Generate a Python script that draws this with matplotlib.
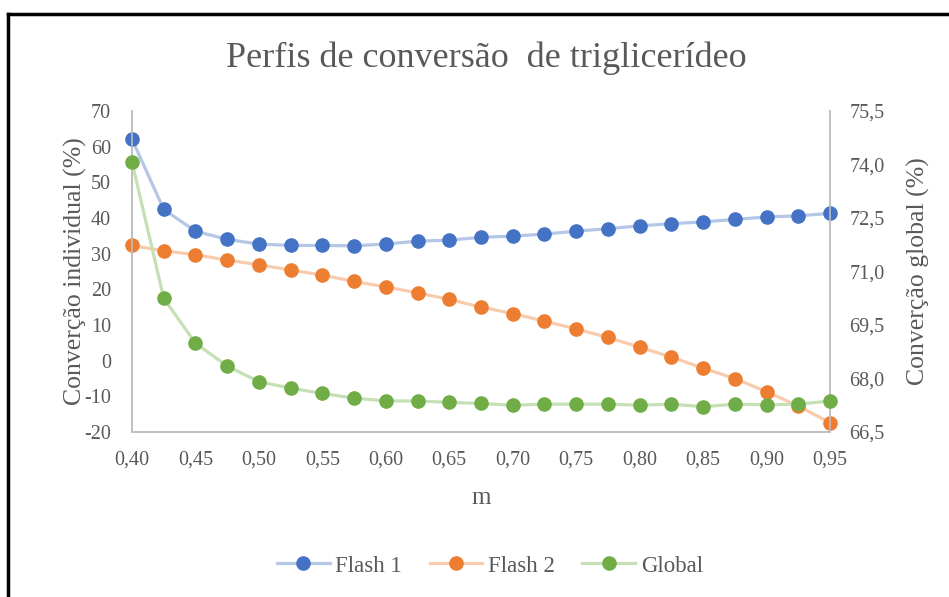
import matplotlib.pyplot as plt
from matplotlib.lines import Line2D

m = [0.400, 0.425, 0.450, 0.475, 0.500, 0.525, 0.550, 0.575, 0.600, 0.625, 0.650, 0.675,
     0.700, 0.725, 0.750, 0.775, 0.800, 0.825, 0.850, 0.875, 0.900, 0.925, 0.950]
flash1 = [62.1, 42.4, 36.3, 34.0, 32.7, 32.3, 32.3, 32.2, 32.7, 33.5, 33.8, 34.6,
          34.9, 35.5, 36.3, 37.0, 37.8, 38.4, 38.9, 39.6, 40.3, 40.6, 41.3]
flash2 = [32.3, 30.8, 29.7, 28.2, 26.9, 25.4, 24.0, 22.2, 20.7, 19.0, 17.2, 15.0,
          13.2, 11.1, 8.9, 6.5, 3.8, 1.0, -2.1, -5.0, -8.7, -12.7, -17.4]
glob = [74.07, 70.25, 68.99, 68.35, 67.91, 67.73, 67.58, 67.45, 67.37, 67.37, 67.33, 67.30,
        67.25, 67.28, 67.28, 67.28, 67.25, 67.28, 67.21, 67.28, 67.26, 67.28, 67.37]

xticks = [0.40, 0.45, 0.50, 0.55, 0.60, 0.65, 0.70, 0.75, 0.80, 0.85, 0.90, 0.95]
left_ticks = [-20, -10, 0, 10, 20, 30, 40, 50, 60, 70]
right_ticks = [66.5, 68.0, 69.5, 71.0, 72.5, 74.0, 75.5]

plt.rcParams['font.family'] = ['Liberation Serif', 'DejaVu Serif']
plt.rcParams['axes.unicode_minus'] = False
gray = '#595959'
axis_col = '#BFBFBF'

fig = plt.figure(figsize=(9.49, 5.97), dpi=100)
ax = fig.add_axes([132/949, 1-432/597, 698/949, 321/597])
ax2 = ax.twinx()

ax.plot(m, flash1, color='#B4C7E7', lw=2.3, marker='o', ms=9.5,
        mfc='#4472C4', mec='#4472C4', label='Flash 1', clip_on=False, zorder=3)
ax.plot(m, flash2, color='#F8CBAD', lw=2.3, marker='o', ms=9.5,
        mfc='#ED7D31', mec='#ED7D31', label='Flash 2', clip_on=False, zorder=3)
ax2.plot(m, glob, color='#C5E0B4', lw=2.3, marker='o', ms=9.5,
         mfc='#70AD47', mec='#70AD47', label='Global', clip_on=False, zorder=3)

ax.set_xlim(0.40, 0.95)
ax.set_ylim(-20, 70)
ax2.set_ylim(66.5, 75.5)
ax.set_xticks(xticks)
ax.set_xticklabels([f"{t:.2f}".replace('.', ',') for t in xticks])
ax.set_yticks(left_ticks)
ax2.set_yticks(right_ticks)
ax2.set_yticklabels([f"{t:.1f}".replace('.', ',') for t in right_ticks])

for a in (ax, ax2):
    a.tick_params(length=0, labelsize=14.5, colors=gray)
    a.spines['top'].set_visible(False)
    for s in ('left', 'right', 'bottom'):
        a.spines[s].set_color(axis_col)
        a.spines[s].set_linewidth(1.2)
ax.tick_params(axis='x', pad=13)
ax.tick_params(axis='y', pad=15)
ax2.tick_params(axis='y', pad=14)

ax.set_xlabel('m', fontsize=18, color=gray, labelpad=13)
ax.set_ylabel('Converção individual (%)', fontsize=18.5, color=gray, labelpad=-2)
ax2.set_ylabel('Converção global (%)', fontsize=18.5, color=gray, labelpad=16)
fig.text(486/949, 1-58/597, 'Perfis de conversão  de triglicerídeo', ha='center', va='center',
         fontsize=26, color=gray)

handles = ax.get_lines() + ax2.get_lines()
fig.legend(handles, [h.get_label() for h in handles], loc='center', ncol=3,
           bbox_to_anchor=(490/949, 1-566/597), frameon=False, fontsize=16.5,
           labelcolor=gray, handlelength=2.3, columnspacing=1.2, handletextpad=0.25)

# frame lines at top and left of the picture
fig.add_artist(Line2D([8/949, 1], [1-14/597, 1-14/597], color='black', lw=2.5))
fig.add_artist(Line2D([8/949, 8/949], [0, 1-14/597], color='black', lw=2.5))

fig.savefig('out.png', dpi=100)
